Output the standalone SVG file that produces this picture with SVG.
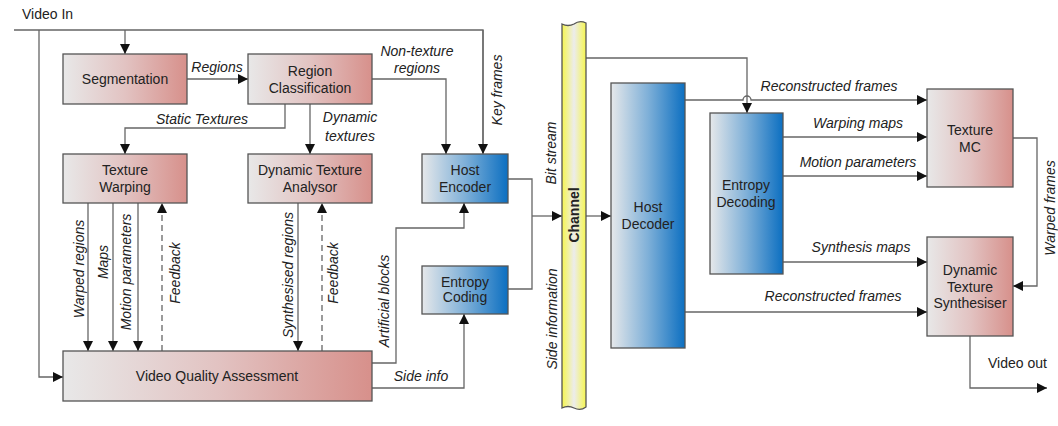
<svg xmlns="http://www.w3.org/2000/svg" width="1058" height="426" viewBox="0 0 1058 426">
  <defs>
    <linearGradient id="gRed" x1="0" y1="0" x2="1" y2="0">
      <stop offset="0" stop-color="#e8e8e8"/>
      <stop offset="0.5" stop-color="#e2c3c2"/>
      <stop offset="1" stop-color="#d7908b"/>
    </linearGradient>
    <linearGradient id="gBlue" x1="0" y1="0" x2="1" y2="0">
      <stop offset="0" stop-color="#e6e8ea"/>
      <stop offset="0.5" stop-color="#7fb0d8"/>
      <stop offset="1" stop-color="#0c6fc1"/>
    </linearGradient>
    <linearGradient id="gChan" x1="0" y1="0" x2="1" y2="0">
      <stop offset="0" stop-color="#f6f64e"/>
      <stop offset="0.5" stop-color="#ececec"/>
      <stop offset="1" stop-color="#f6f64e"/>
    </linearGradient>
    <marker id="arr" viewBox="0 0 10 10" refX="10" refY="5" markerWidth="10" markerHeight="10" markerUnits="userSpaceOnUse" orient="auto">
      <path d="M0,0 L10,5 L0,10 Z" fill="#111"/>
    </marker>
  </defs>
  <style>
    .box { stroke: #555; stroke-width: 1.3; }
    .red { fill: url(#gRed); }
    .blue { fill: url(#gBlue); }
    .t { font-family: "Liberation Sans", Arial, sans-serif; font-size: 14px; fill: #222; text-anchor: middle; }
    .lbl { font-family: "Liberation Sans", Arial, sans-serif; font-size: 14px; font-style: italic; fill: #222; text-anchor: middle; }
    .plain { font-family: "Liberation Sans", Arial, sans-serif; font-size: 14px; fill: #222; }
    .ln { fill: none; stroke: #666; stroke-width: 1.3; }
    .ar { marker-end: url(#arr); }
    .dash { stroke-dasharray: 6 4; }
  </style>

  <!-- connectors -->
  <g id="connectors">
    <!-- video input bus -->
    <path class="ln" d="M14,30 H483 V153"/>
    <path class="ln ar" d="M483,30 V154"/>
    <path class="ln ar" d="M125,30 V54"/>
    <path class="ln ar" d="M39,30 V377 H63"/>
    <!-- encoder side -->
    <path class="ln ar" d="M187,79 H248"/>
    <path class="ln ar" d="M285,104 V128 H125 V154"/>
    <path class="ln ar" d="M310,104 V154"/>
    <path class="ln ar" d="M372,79 H446 V154"/>
    <path class="ln ar" d="M88,203 V351"/>
    <path class="ln ar" d="M113,203 V351"/>
    <path class="ln ar" d="M138,203 V351"/>
    <path class="ln ar dash" d="M162,351 V203"/>
    <path class="ln ar" d="M298,203 V351"/>
    <path class="ln ar dash" d="M322,351 V203"/>
    <path class="ln ar" d="M372,363 H396 V228 H464 V203"/>
    <path class="ln ar" d="M372,388 H464 V314"/>
    <path class="ln" d="M508,179 H532 V289 H508"/>
    <path class="ln ar" d="M532,216 H562"/>
    <!-- decoder side -->
    <path class="ln ar" d="M586,216 H611"/>
    <path class="ln ar" d="M586,58 H747 V113"/>
    <path class="ln ar" d="M685,100 H743 A4,4 0 0 1 751,100 H927"/>
    <path class="ln ar" d="M783,137 H927"/>
    <path class="ln ar" d="M783,176 H927"/>
    <path class="ln ar" d="M783,262 H927"/>
    <path class="ln ar" d="M685,312 H927"/>
    <path class="ln ar" d="M1013,138 H1037 V286 H1013"/>
    <path class="ln ar" d="M970,336 V388 H1047"/>

    <!-- connector labels -->
    <text class="lbl" x="217" y="72">Regions</text>
    <text class="lbl" x="202" y="124">Static Textures</text>
    <text class="lbl" x="350" y="122">Dynamic</text>
    <text class="lbl" x="350" y="141">textures</text>
    <text class="lbl" x="417" y="56">Non-texture</text>
    <text class="lbl" x="417" y="73">regions</text>
    <text class="lbl" transform="translate(502,90) rotate(-90)">Key frames</text>
    <text class="lbl" transform="translate(84,269) rotate(-90)">Warped regions</text>
    <text class="lbl" transform="translate(108,262) rotate(-90)">Maps</text>
    <text class="lbl" transform="translate(131,272) rotate(-90)">Motion parameters</text>
    <text class="lbl" transform="translate(180,273) rotate(-90)">Feedback</text>
    <text class="lbl" transform="translate(293,275) rotate(-90)">Synthesised regions</text>
    <text class="lbl" transform="translate(338,273) rotate(-90)">Feedback</text>
    <text class="lbl" transform="translate(389,301) rotate(-90)">Artificial blocks</text>
    <text class="lbl" x="421" y="381">Side info</text>
    <text class="lbl" transform="translate(556,153) rotate(-90)">Bit stream</text>
    <text class="lbl" transform="translate(557,319) rotate(-90)">Side information</text>
    <text class="lbl" x="829" y="91">Reconstructed frames</text>
    <text class="lbl" x="858" y="128">Warping maps</text>
    <text class="lbl" x="858" y="167">Motion parameters</text>
    <text class="lbl" x="861" y="252">Synthesis maps</text>
    <text class="lbl" x="833" y="301">Reconstructed frames</text>
    <text class="lbl" transform="translate(1055,208) rotate(-90)">Warped frames</text>
    <text class="plain" x="22" y="19">Video In</text>
    <text class="plain" x="988" y="368">Video out</text>
  </g>

  <!-- encoder blocks -->
  <g id="segmentation">
    <rect class="box red" x="63" y="54" width="124" height="50"/>
    <text class="t" x="125" y="84">Segmentation</text>
  </g>
  <g id="region-classification">
    <rect class="box red" x="248" y="54" width="124" height="50"/>
    <text class="t" x="310" y="76">Region</text>
    <text class="t" x="310" y="93">Classification</text>
  </g>
  <g id="texture-warping">
    <rect class="box red" x="63" y="154" width="124" height="49"/>
    <text class="t" x="125" y="175">Texture</text>
    <text class="t" x="125" y="192">Warping</text>
  </g>
  <g id="dynamic-texture-analysor">
    <rect class="box red" x="248" y="154" width="124" height="49"/>
    <text class="t" x="310" y="175">Dynamic Texture</text>
    <text class="t" x="310" y="192">Analysor</text>
  </g>
  <g id="host-encoder">
    <rect class="box blue" x="422" y="154" width="86" height="49"/>
    <text class="t" x="465" y="175">Host</text>
    <text class="t" x="465" y="192">Encoder</text>
  </g>
  <g id="entropy-coding">
    <rect class="box blue" x="422" y="266" width="86" height="48"/>
    <text class="t" x="465" y="287">Entropy</text>
    <text class="t" x="465" y="302">Coding</text>
  </g>
  <g id="video-quality-assessment">
    <rect class="box red" x="63" y="351" width="309" height="50"/>
    <text class="t" x="217" y="381">Video Quality Assessment</text>
  </g>

  <!-- transmission channel -->
  <g id="channel">
    <path class="box" fill="url(#gChan)" d="M562,24 C566,26 570,26 574,24 C578,21 582,21 586,23 V407 C582,410 578,410 574,408 C570,406 566,406 562,408 Z"/>
    <text class="t" font-weight="bold" transform="translate(579,215) rotate(-90)">Channel</text>
  </g>

  <!-- decoder blocks -->
  <g id="host-decoder">
    <rect class="box blue" x="611" y="83" width="74" height="265"/>
    <text class="t" x="648" y="212">Host</text>
    <text class="t" x="648" y="229">Decoder</text>
  </g>
  <g id="entropy-decoding">
    <rect class="box blue" x="710" y="113" width="73" height="161"/>
    <text class="t" x="746" y="190">Entropy</text>
    <text class="t" x="746" y="207">Decoding</text>
  </g>
  <g id="texture-mc">
    <rect class="box red" x="927" y="89" width="86" height="98"/>
    <text class="t" x="970" y="135">Texture</text>
    <text class="t" x="970" y="152">MC</text>
  </g>
  <g id="dynamic-texture-synthesiser">
    <rect class="box red" x="927" y="237" width="86" height="99"/>
    <text class="t" x="970" y="275">Dynamic</text>
    <text class="t" x="970" y="292">Texture</text>
    <text class="t" x="970" y="308">Synthesiser</text>
  </g>
</svg>
